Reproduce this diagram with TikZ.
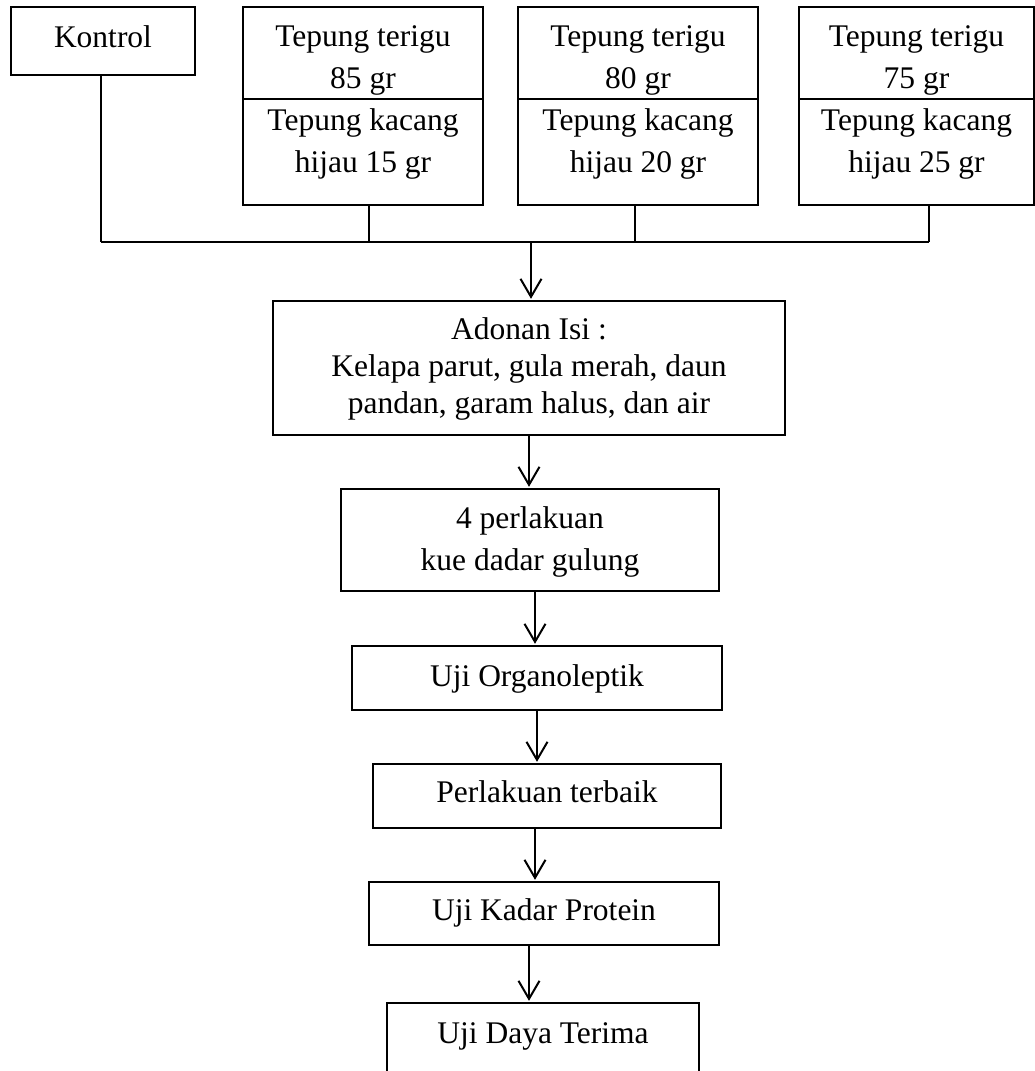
\documentclass[tikz,border=0pt]{standalone}
\usepackage{fontspec}
\setmainfont{Liberation Serif}
\usetikzlibrary{arrows.meta}
\newcommand\mytop[1]{\rule{0pt}{#1pt}}
\newcommand\mybot[1]{\rule[-#1pt]{0pt}{0pt}}
\tikzset{
  box/.style={draw, line width=1.4pt, inner sep=0pt, align=center, font=\fontsize{31.5}{42}\selectfont},
  conn/.style={line width=2pt},
  arr/.style={line width=2pt, -{Straight Barb[length=18pt,width=21pt]}, shorten >=1.5pt}
}
\begin{document}
\begin{tikzpicture}[x=1pt,y=-1pt]
\useasboundingbox (0,0) rectangle (1035,1071);
% top row
\node[box, minimum width=184pt, minimum height=68pt] (kontrol) at (103,41) {\mytop{24}Kontrol\mybot{12}};
\node[box, minimum width=240pt, minimum height=92pt] (b2t) at (363,53) {\mytop{39.4}Tepung terigu\\85 gr\mybot{10}};
\node[box, minimum width=240pt, minimum height=106pt] (b2b) at (363,152) {\mytop{25}Tepung kacang\\hijau 15 gr\mybot{25.6}};
\node[box, minimum width=240pt, minimum height=92pt] (b3t) at (638,53) {\mytop{39.4}Tepung terigu\\80 gr\mybot{10}};
\node[box, minimum width=240pt, minimum height=106pt] (b3b) at (638,152) {\mytop{25}Tepung kacang\\hijau 20 gr\mybot{25.6}};
\node[box, minimum width=235pt, minimum height=92pt] (b4t) at (916.5,53) {\mytop{39.4}Tepung terigu\\75 gr\mybot{10}};
\node[box, minimum width=235pt, minimum height=106pt] (b4b) at (916.5,152) {\mytop{25}Tepung kacang\\hijau 25 gr\mybot{25.6}};
% flow
\node[box, font=\fontsize{31.5}{37}\selectfont, minimum width=512pt, minimum height=134pt] (adonan) at (529,368) {\mytop{26}Adonan Isi :\\Kelapa parut, gula merah, daun\\pandan, garam halus, dan air\mybot{10}};
\node[box, minimum width=378pt, minimum height=102pt] (p4) at (530,540) {\mytop{28}4 perlakuan\\kue dadar gulung\mybot{10}};
\node[box, minimum width=370pt, minimum height=64pt] (org) at (537,678) {\mytop{26}Uji Organoleptik\mybot{10}};
\node[box, minimum width=348pt, minimum height=64pt] (terb) at (547,796) {\mytop{24}Perlakuan terbaik\mybot{12}};
\node[box, minimum width=350pt, minimum height=63pt] (kadar) at (544,913.5) {\mytop{25}Uji Kadar Protein\mybot{10.6}};
\node[box, minimum width=312pt, minimum height=71pt] (daya) at (543,1038.5) {\mytop{23}Uji Daya Terima\mybot{14}};
% collector
\coordinate (h1) at (101,242);
\coordinate (h4) at (929,242);
\coordinate (hmid) at (531,242);
\draw[conn] ([xshift=-2pt]kontrol.south) -- ([xshift=-2pt]kontrol.south |- h1);
\draw[conn] ([xshift=6pt]b2b.south) -- ([xshift=6pt]b2b.south |- h1);
\draw[conn] ([xshift=-3pt]b3b.south) -- ([xshift=-3pt]b3b.south |- h1);
\draw[conn] ([xshift=12.5pt]b4b.south) -- ([xshift=12.5pt]b4b.south |- h1);
\draw[conn] (h1) -- (h4);
\draw[arr] (hmid) -- (hmid |- adonan.north);
\draw[arr] (adonan.south) -- (adonan.south |- p4.north);
\draw[arr] ([xshift=5pt]p4.south) -- ([xshift=5pt]p4.south |- org.north);
\draw[arr] (org.south) -- (org.south |- terb.north);
\draw[arr] ([xshift=-12pt]terb.south) -- ([xshift=-12pt]terb.south |- kadar.north);
\draw[arr] ([xshift=-15pt]kadar.south) -- ([xshift=-15pt]kadar.south |- daya.north);
\end{tikzpicture}
\end{document}
